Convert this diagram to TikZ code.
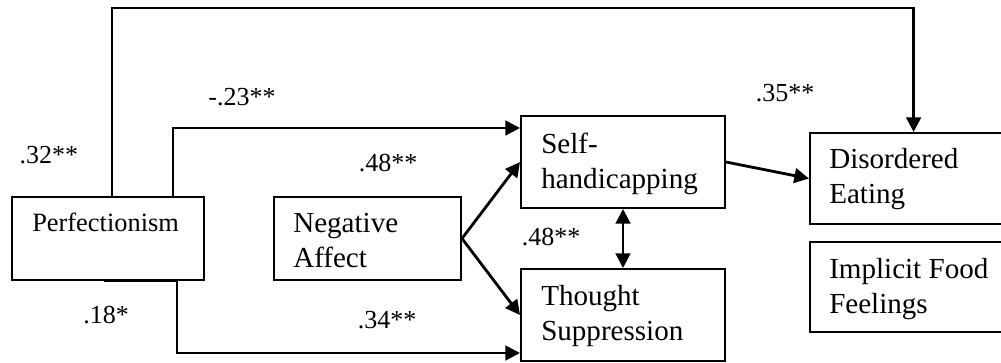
\documentclass[tikz,border=0pt]{standalone}
\usepackage{fontspec}
\setmainfont{Liberation Serif}
\usetikzlibrary{arrows.meta}

\tikzset{
  varbox/.style={draw, line width=1.5pt, inner sep=0pt, anchor=north west},
  vartext/.style={anchor=base west, align=left, inner sep=0pt, font=\fontsize{21.8}{26.25}\selectfont},
  coef/.style={inner sep=0pt, font=\fontsize{19.5}{24}\selectfont},
  link/.style={line width=2.1pt, -{Triangle[length=11pt,width=11pt]}},
  twoway/.style={line width=2.1pt, {Triangle[length=11pt,width=11pt]}-{Triangle[length=11pt,width=11pt]}}
}

\begin{document}
\begin{tikzpicture}[x=0.75pt,y=0.75pt,yscale=-1,xscale=1]
\useasboundingbox (0,0) rectangle (1001,362);

%Shape: Rectangle [perf]
\node[varbox, minimum width=144pt, minimum height=62.25pt] (perf) at (11,196) {};
%Shape: Rectangle [neg]
\node[varbox, minimum width=140.25pt, minimum height=62.25pt] (neg) at (273,196) {};
%Shape: Rectangle [self]
\node[varbox, minimum width=153pt, minimum height=69pt] (self) at (520,115) {};
%Shape: Rectangle [thought]
\node[varbox, minimum width=153pt, minimum height=69pt] (thought) at (520,268) {};
%Shape: Rectangle [dis] (right side runs off the page)
\node[varbox, minimum width=147pt, minimum height=68.25pt] (dis) at (809,132) {};
%Shape: Rectangle [impl]
\node[varbox, minimum width=147pt, minimum height=67.5pt] (impl) at (809,241) {};

% Text Node (base = last line)
\node[vartext, font=\fontsize{19.8}{24}\selectfont] (perf-t) at ([shift={(21,35)}]perf.north west) {Perfectionism};
% Text Node
\node[vartext] (neg-t) at ([shift={(20,71)}]neg.north west) {Negative\\Affect};
% Text Node
\node[vartext] (self-t) at ([shift={(21,73)}]self.north west) {Self-\\handicapping};
% Text Node
\node[vartext] (thought-t) at ([shift={(21,72)}]thought.north west) {Thought\\Suppression};
% Text Node
\node[vartext] (dis-t) at ([shift={(20,71)}]dis.north west) {Disordered\\Eating};
% Text Node
\node[vartext] (impl-t) at ([shift={(20,72)}]impl.north west) {Implicit Food\\Feelings};

%Straight Lines [paths]
\draw[link] ([xshift=3pt]perf.north) -- ++(0,-188) -| ([xshift=4.2pt]dis.north);
\draw[link] ([xshift=48.75pt]perf.north) |- ([yshift=-25.5pt]self.west);
\draw[link] ([xshift=-3pt]perf.south) -- ([xshift=51.75pt]perf.south) |- ([yshift=28.5pt]thought.west);
\draw[link] (neg.east) -- (self.west);
\draw[link] (neg.east) -- (thought.west);
\draw[link] (self.east) -- (dis.west);
\draw[twoway] (self.south) -- (thought.north);

% Text Node
\node[coef] (b-pd) at (49,155) {.32**};
% Text Node
\node[coef] (b-ps) at (242,97) {-.23**};
% Text Node
\node[coef] (b-ns) at (388,163) {.48**};
% Text Node
\node[coef] (b-pt) at (106,315) {.18*};
% Text Node
\node[coef] (b-nt) at (387,320) {.34**};
% Text Node
\node[coef] (b-sd) at (785,93) {.35**};
% Text Node
\node[coef] (b-st) at (551,237) {.48**};
\end{tikzpicture}
\end{document}
